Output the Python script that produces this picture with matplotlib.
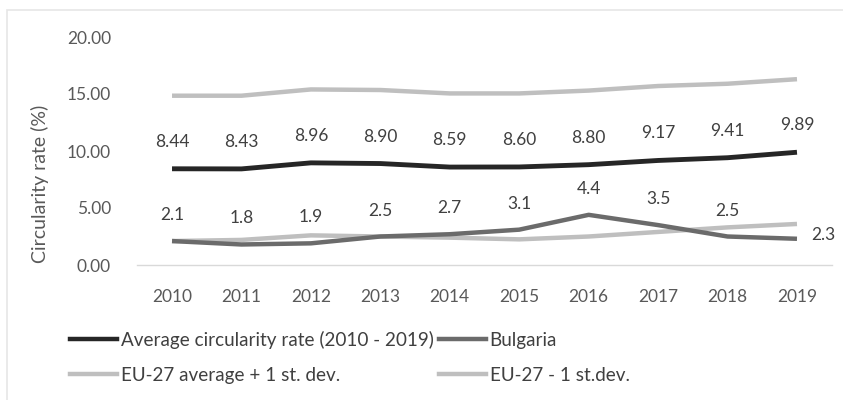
import matplotlib
matplotlib.use("Agg")
import matplotlib.pyplot as plt
from matplotlib.lines import Line2D
from matplotlib.patches import Rectangle

years = ["2010", "2011", "2012", "2013", "2014", "2015", "2016", "2017", "2018", "2019"]
avg_rate = [8.44, 8.43, 8.96, 8.90, 8.59, 8.60, 8.80, 9.17, 9.41, 9.89]
bulgaria = [2.1, 1.8, 1.9, 2.5, 2.7, 3.1, 4.4, 3.5, 2.5, 2.3]
eu_plus = [14.85, 14.85, 15.4, 15.35, 15.05, 15.05, 15.3, 15.7, 15.9, 16.3]
eu_minus = [2.1, 2.2, 2.6, 2.5, 2.4, 2.25, 2.5, 2.9, 3.3, 3.6]
yticks = [0, 5, 10, 15, 20]

plt.rcParams['font.family'] = ['Lato', 'DejaVu Sans']

W, H = 843, 400
fig = plt.figure(figsize=(W / 100, H / 100), dpi=100)
fig.patch.set_facecolor('white')

# light border of chart area
fig.add_artist(Rectangle((7 / W, -0.05), 1.1, 1 - 10 / H + 0.05, transform=fig.transFigure,
                         fill=False, edgecolor='#e6e6e6', linewidth=1.2))

left, right = 137.3 / W, 831.7 / W
bottom, top = 1 - 265 / H, 1 - 37 / H
ax = fig.add_axes([left, bottom, right - left, top - bottom])

x = list(range(len(years)))
c_avg, c_bg, c_eu = '#262626', '#6b6b6b', '#bfbfbf'
lw = 3.2
ax.plot(x, eu_plus, color=c_eu, lw=lw, solid_capstyle='butt', zorder=2)
ax.plot(x, eu_minus, color=c_eu, lw=lw, solid_capstyle='butt', zorder=2)
ax.plot(x, bulgaria, color=c_bg, lw=lw, solid_capstyle='butt', zorder=3)
ax.plot(x, avg_rate, color=c_avg, lw=lw + 0.3, solid_capstyle='butt', zorder=4)

ax.set_xlim(-0.5, len(years) - 0.5)
ax.set_ylim(0, 20)
ax.set_yticks(yticks)
ax.set_yticklabels([f"{v:.2f}" for v in yticks])
ax.set_xticks(x)
ax.set_xticklabels(years)

for s in ['top', 'right', 'left']:
    ax.spines[s].set_visible(False)
ax.spines['bottom'].set_color('#d9d9d9')
ax.spines['bottom'].set_linewidth(1.0)
ax.tick_params(axis='both', length=0, labelsize=12.5, labelcolor='#595959')
ax.tick_params(axis='y', pad=19)
ax.tick_params(axis='x', pad=17)

lab_color = '#404040'
for xi, v in zip(x, avg_rate):
    ax.annotate(f"{v:.2f}", (xi, v), xytext=(0, 27), textcoords='offset pixels',
                ha='center', va='center', fontsize=12.5, color=lab_color)
for i, (xi, v) in enumerate(zip(x, bulgaria)):
    if i == len(x) - 1:
        off = (26, 4)
    else:
        off = (0, 26)
    ax.annotate(f"{v:.1f}", (xi, v), xytext=off, textcoords='offset pixels',
                ha='center', va='center', fontsize=12.5, color=lab_color,
                annotation_clip=False)

fig.text(40 / W, 1 - 184 / H, "Circularity rate (%)", rotation=90, ha='center', va='center',
         fontsize=14, color='#595959')

handles = [
    Line2D([], [], color=c_avg, lw=lw),
    Line2D([], [], color=c_eu, lw=lw),
    Line2D([], [], color=c_bg, lw=lw),
    Line2D([], [], color=c_eu, lw=lw),
]
labels = ["Average circularity rate (2010 - 2019)", "EU-27 average + 1 st. dev.",
          "Bulgaria", "EU-27 - 1 st.dev."]
leg = fig.legend(handles, labels, ncol=2, loc='upper left',
                 bbox_to_anchor=(70 / W, 1 - 331 / H), frameon=False,
                 fontsize=13.6, handlelength=2.5, handletextpad=0.2,
                 columnspacing=0.25, labelspacing=0.95, borderpad=0, borderaxespad=0)
for t in leg.get_texts():
    t.set_color('#404040')

fig.savefig("out.png", dpi=100, facecolor='white')
